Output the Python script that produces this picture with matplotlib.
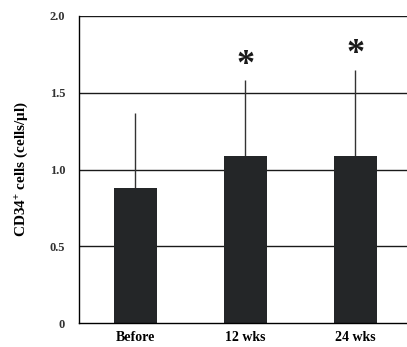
import matplotlib
matplotlib.use("Agg")
import matplotlib.pyplot as plt

categories = ["Before", "12 wks", "24 wks"]
means = [0.88, 1.09, 1.09]
upper_err = [0.49, 0.49, 0.56]
significant = [False, True, True]
yticks = [0, 0.5, 1.0, 1.5, 2.0]
yticklabels = ["0", "0.5", "1.0", "1.5", "2.0"]

plt.rcParams['font.family'] = ['Liberation Serif', 'DejaVu Serif']
plt.rcParams['font.weight'] = 'bold'
plt.rcParams['mathtext.fontset'] = 'custom'
plt.rcParams['mathtext.rm'] = 'Liberation Serif:bold'
plt.rcParams['mathtext.bf'] = 'Liberation Serif:bold'
plt.rcParams['mathtext.it'] = 'Liberation Serif:bold:italic'

fig = plt.figure(figsize=(4.07, 3.47), dpi=100)
ax = fig.add_axes([0.194, 0.069, 0.806, 0.885])

x = list(range(len(categories)))
ax.set_axisbelow(True)
for y in yticks[1:]:
    ax.axhline(y, color='#1a1a1a', lw=1.0, zorder=0.5)
ax.bar(x, means, width=0.39, color='#242628', zorder=2)
ax.errorbar(x, means, yerr=[[0]*3, upper_err], fmt='none', ecolor='#333333',
            elinewidth=1.0, capsize=0, zorder=1)
for xi, m, e, s in zip(x, means, upper_err, significant):
    if s:
        ax.text(xi, m + e - 0.01, "*", ha='center', va='bottom', fontsize=26,
                fontweight='bold', color='#1a1a1a')

ax.set_xlim(-0.51, 2.47)
ax.set_ylim(0, 2.0)
ax.set_yticks(yticks)
ax.set_yticklabels(yticklabels, fontsize=9, fontweight='bold', color='#333333')
ax.set_xticks(x)
ax.set_xticklabels(categories, fontsize=10, fontweight='bold')
ax.tick_params(axis='both', length=0, pad=10)
ax.tick_params(axis='x', pad=6)
for side in ['top', 'right']:
    ax.spines[side].set_visible(False)
ax.spines['left'].set_linewidth(1.0)
ax.spines['bottom'].set_linewidth(1.0)
ax.set_ylabel("CD34$^{+}$ cells (cells/\u03bcl)", fontsize=11, fontweight='bold', labelpad=14)

fig.savefig("out.png", dpi=100)
